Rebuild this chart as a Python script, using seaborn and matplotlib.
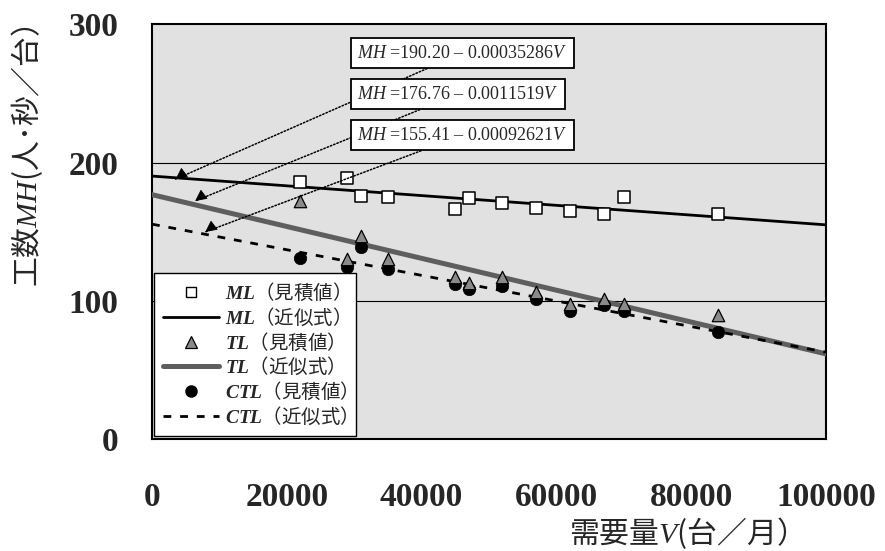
import numpy as np
import pandas as pd
import matplotlib
matplotlib.use("Agg")
import matplotlib.pyplot as plt
from matplotlib.lines import Line2D
import seaborn as sns

# ---------------- data ----------------
V = [22000, 29000, 31000, 35000, 45000, 47000, 52000, 57000, 62000, 67000, 70000, 84000]
ML_est = [185.9, 188.6, 175.8, 175.1, 166.6, 174.3, 170.9, 167.3, 164.9, 162.6, 175.1, 162.6]
TL_est = [172.4, 130.4, 146.6, 130.0, 117.4, 112.6, 117.0, 106.1, 97.7, 101.5, 97.7, 89.7]
CTL_est = [130.7, 124.2, 138.7, 123.2, 111.9, 108.5, 110.7, 101.3, 92.8, 96.9, 92.6, 77.2]

# fitted equations printed on the chart: MH = a - b*V
ML_fit = (190.20, 0.00035286)
TL_fit = (176.76, 0.0011519)
CTL_fit = (155.41, 0.00092621)
fit_range = [0, 100000]

eq_labels = ["$MH$ =190.20 – 0.00035286$V$",
             "$MH$ =176.76 – 0.0011519$V$",
             "$MH$ =155.41 – 0.00092621$V$"]

x_ticks = [0, 20000, 40000, 60000, 80000, 100000]
y_ticks = [0, 100, 200, 300]

# ---------------- style ----------------
sns.set_theme(style="white")
plt.rcParams['font.family'] = ['Liberation Serif', 'Noto Sans CJK JP', 'DejaVu Sans']
plt.rcParams['mathtext.fontset'] = 'custom'
plt.rcParams['mathtext.rm'] = 'Liberation Serif'
plt.rcParams['mathtext.it'] = 'Liberation Serif:italic'
plt.rcParams['mathtext.bf'] = 'Liberation Serif:bold'
plt.rcParams['mathtext.bfit'] = 'Liberation Serif:italic:bold'

fig = plt.figure(figsize=(8.85, 5.51), dpi=100)
ax = fig.add_axes([0.1718, 0.2033, 0.9333 - 0.1718, 0.9559 - 0.2033])
ax.set_facecolor('#e1e1e1')

df = pd.DataFrame({'V': V, 'ML': ML_est, 'TL': TL_est, 'CTL': CTL_est})
fx = np.array(fit_range, dtype=float)
fit_df = pd.DataFrame({
    'V': fx,
    'ML': ML_fit[0] - ML_fit[1] * fx,
    'TL': TL_fit[0] - TL_fit[1] * fx,
    'CTL': CTL_fit[0] - CTL_fit[1] * fx,
})

TL_LINE = '#5e5e5e'
CTL_DASH = (2.8, 3.2)

# gridlines
for yv in y_ticks[1:-1]:
    ax.axhline(yv, color='black', lw=0.8, zorder=1)

# fitted lines
sns.lineplot(data=fit_df, x='V', y='ML', ax=ax, color='black', lw=2.0, zorder=3)
sns.lineplot(data=fit_df, x='V', y='TL', ax=ax, color=TL_LINE, lw=3.6, zorder=3)
sns.lineplot(data=fit_df, x='V', y='CTL', ax=ax, color='black', lw=2.0, zorder=3)
ax.lines[-1].set_dashes(CTL_DASH)

# estimated points
sns.scatterplot(data=df, x='V', y='ML', ax=ax, marker='s', s=70, color='white',
                edgecolor='black', linewidth=1.1, zorder=5)
sns.scatterplot(data=df, x='V', y='TL', ax=ax, marker='^', s=80, color='#8a8a8a',
                edgecolor='black', linewidth=0.9, zorder=5)
sns.scatterplot(data=df, x='V', y='CTL', ax=ax, marker='o', s=80, color='black',
                edgecolor='black', linewidth=0.5, zorder=4)

ax.set_xlim(fit_range[0], fit_range[1])
ax.set_ylim(y_ticks[0], y_ticks[-1])
ax.set_xticks(x_ticks)
ax.set_xticklabels([str(t) for t in x_ticks])
ax.set_yticks(y_ticks)
ax.set_yticklabels([str(t) for t in y_ticks])
ax.tick_params(axis='x', direction='in', length=8, width=1, pad=31, labelsize=24)
ax.tick_params(axis='y', direction='in', length=8, width=1, pad=24, labelsize=24)
for lab in ax.get_xticklabels() + ax.get_yticklabels():
    lab.set_fontweight('bold')
    lab.set_fontfamily('Liberation Serif')
for sp in ax.spines.values():
    sp.set_color('black')
    sp.set_linewidth(1.5)

ax.set_xlabel('')
ax.set_ylabel('')
fig.text(0.767, 0.033, '需要量$V$(台／月）', fontsize=21.5, ha='center', va='center',
         family=['Noto Sans CJK JP', 'DejaVu Sans'])
fig.text(0.03, 0.716, '工数$MH$(人･秒／台）', fontsize=21.5, ha='center', va='center',
         rotation=90, family=['Noto Sans CJK JP', 'DejaVu Sans'])

# equation boxes with dotted leader lines and solid arrowheads
tips = [(3500, 188.0), (6400, 172.2), (7900, 149.8)]
text_pos = [(30400, 279.2), (30400, 249.4), (30400, 219.7)]
for lab, tip, tp in zip(eq_labels, tips, text_pos):
    ax.annotate(lab, xy=tip, xytext=tp, textcoords='data', ha='left', va='center',
                fontsize=13, family='Liberation Serif', zorder=6,
                bbox=dict(boxstyle='square,pad=0.35', fc='white', ec='black', lw=1.3),
                arrowprops=dict(arrowstyle='-', linestyle=(0, (1, 1.3)), lw=1.1,
                                color='black', shrinkA=0, shrinkB=0))
    ax.annotate('', xy=tip, xytext=(6, 4.5), textcoords='offset points', zorder=6,
                arrowprops=dict(arrowstyle='-|>,head_length=0.9,head_width=0.45',
                                lw=0.6, color='black', shrinkA=0, shrinkB=0,
                                mutation_scale=8))

# legend
handles = [
    Line2D([], [], marker='s', ls='none', mfc='white', mec='black', ms=7, mew=1),
    Line2D([], [], color='black', lw=2.0),
    Line2D([], [], marker='^', ls='none', mfc='#8a8a8a', mec='black', ms=8, mew=0.9),
    Line2D([], [], color=TL_LINE, lw=3.6),
    Line2D([], [], marker='o', ls='none', mfc='black', mec='black', ms=8),
    Line2D([], [], color='black', lw=2.0, dashes=CTL_DASH),
]
labels = [r'$\mathbfit{ML}$（見積値）', r'$\mathbfit{ML}$（近似式）',
          r'$\mathbfit{TL}$（見積値）', r'$\mathbfit{TL}$（近似式）',
          r'$\mathbfit{CTL}$（見積値）', r'$\mathbfit{CTL}$（近似式）']
leg = ax.legend(handles, labels, loc='lower left', bbox_to_anchor=(0.003, 0.007),
                frameon=True, fancybox=False, edgecolor='black', framealpha=1,
                prop={'family': ['Noto Sans CJK JP', 'DejaVu Sans'], 'size': 14},
                handlelength=2.9, handletextpad=0.3, labelspacing=0.12,
                borderpad=0.45, borderaxespad=0)
leg.get_frame().set_linewidth(1.0)
leg.set_zorder(7)

fig.savefig('out.png', dpi=100)
